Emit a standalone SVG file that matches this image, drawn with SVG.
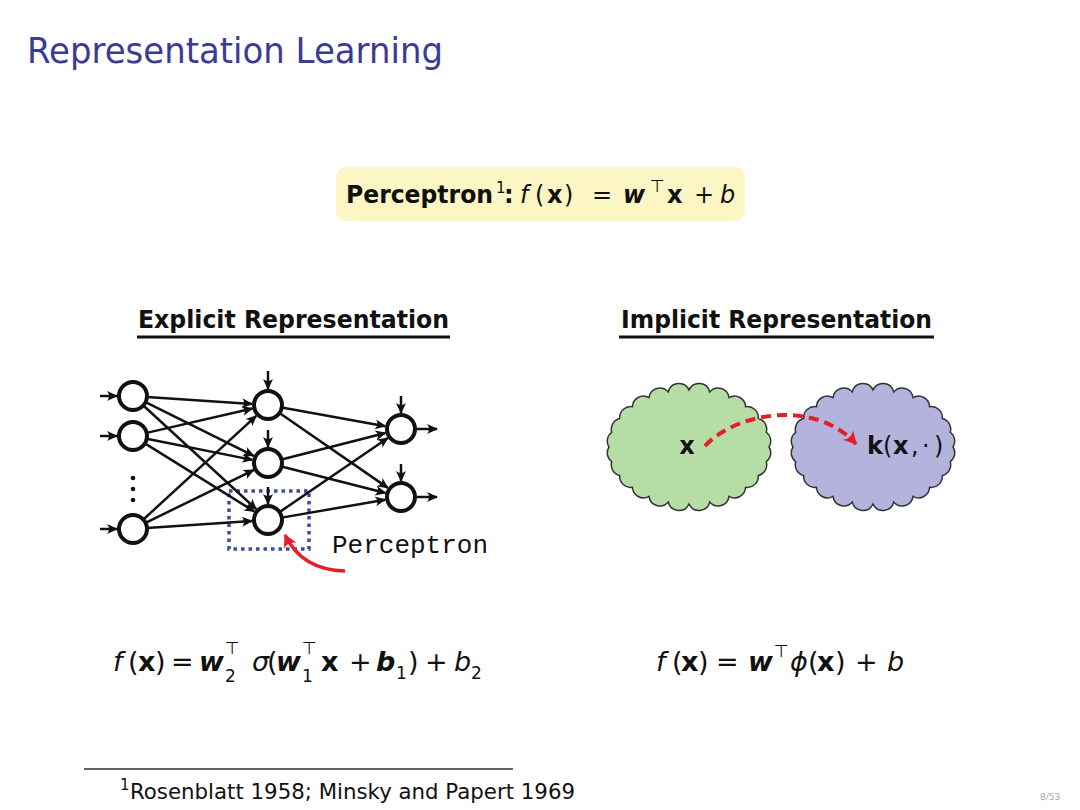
<svg xmlns="http://www.w3.org/2000/svg" xmlns:xlink="http://www.w3.org/1999/xlink" width="1080" height="810" viewBox="0 0 1080 810">
<style>
text { font-family: "DejaVu Sans", "Liberation Sans", sans-serif; fill: #111; }
.title { fill: #3b3b95; font-size: 35px; }
.head { font-weight: bold; font-size: 25px; }
.eq { font-size: 27px; }
.it { font-style: italic; }
.bf { font-weight: bold; }
.bi { font-weight: bold; font-style: italic; }
.sub { font-size: 17px; }
.node { fill: #fff; stroke: #111; stroke-width: 4; }
.edge { stroke: #111; stroke-width: 2.5; fill: none; marker-end: url(#ah); }
.cloud { stroke: #333; stroke-width: 1.5; }
</style>
<defs>
<marker id="ah" viewBox="-11 -6 12 12" refX="0" refY="0" markerWidth="12" markerHeight="12" orient="auto" markerUnits="userSpaceOnUse">
<path d="M1,0 L-10,-5 Q-6,0 -10,5 Z" fill="#111"/>
</marker>
<marker id="ahr" viewBox="-13 -8 15 16" refX="0" refY="0" markerWidth="15" markerHeight="16" orient="auto" markerUnits="userSpaceOnUse">
<path d="M1,0 L-12,-7 Q-7,0 -12,7 Z" fill="#e3202a"/>
</marker>
<path id="cloudShape" d="M80,0 A11,11 0 0 1 77.27,14.75 A11,11 0 0 1 69.28,28.5 A11,11 0 0 1 56.57,40.30 A11,11 0 0 1 40,49.36 A11,11 0 0 1 20.70,55.06 A11,11 0 0 1 0,57 A11,11 0 0 1 -20.70,55.06 A11,11 0 0 1 -40,49.36 A11,11 0 0 1 -56.57,40.30 A11,11 0 0 1 -69.28,28.5 A11,11 0 0 1 -77.27,14.75 A11,11 0 0 1 -80,0 A11,11 0 0 1 -77.27,-14.75 A11,11 0 0 1 -69.28,-28.5 A11,11 0 0 1 -56.57,-40.30 A11,11 0 0 1 -40,-49.36 A11,11 0 0 1 -20.70,-55.06 A11,11 0 0 1 0,-57 A11,11 0 0 1 20.70,-55.06 A11,11 0 0 1 40,-49.36 A11,11 0 0 1 56.57,-40.30 A11,11 0 0 1 69.28,-28.5 A11,11 0 0 1 77.27,-14.75 A11,11 0 0 1 80,0 Z"/>
</defs>
<rect width="1080" height="810" fill="#fff"/>

<text class="title" x="27" y="63" textLength="416" lengthAdjust="spacingAndGlyphs">Representation Learning</text>

<g id="perceptron-box">
<rect x="336" y="167" width="409" height="54" rx="10" fill="#fbf6c3"/>
<text y="203" font-size="24"><tspan class="bf" x="346" textLength="147" lengthAdjust="spacingAndGlyphs">Perceptron</tspan><tspan font-size="15" x="496" y="193">1</tspan><tspan class="bf" x="504" y="203">:</tspan><tspan class="it" x="520">f</tspan><tspan x="535">(</tspan><tspan class="bf" x="547">x</tspan><tspan x="564">)</tspan><tspan x="592">=</tspan><tspan class="bi" x="623">w</tspan><tspan font-size="17" x="650" y="192">⊤</tspan><tspan class="bf" x="667" y="203">x</tspan><tspan x="694">+</tspan><tspan class="it" x="720">b</tspan></text>
</g>

<g id="explicit-heading">
<text class="head" x="138" y="328" textLength="311" lengthAdjust="spacingAndGlyphs">Explicit Representation</text>
<line x1="137" y1="337" x2="450" y2="337" stroke="#111" stroke-width="3"/>
</g>
<g id="implicit-heading">
<text class="head" x="621" y="328" textLength="311" lengthAdjust="spacingAndGlyphs">Implicit Representation</text>
<line x1="619" y1="337" x2="934" y2="337" stroke="#111" stroke-width="3"/>
</g>

<g id="input-nodes">
<circle class="node" cx="133" cy="396" r="14"/>
<circle class="node" cx="133" cy="436" r="14"/>
<circle class="node" cx="133" cy="529" r="14"/>
<circle cx="133" cy="478" r="2.3" fill="#111"/>
<circle cx="133" cy="489" r="2.3" fill="#111"/>
<circle cx="133" cy="500" r="2.3" fill="#111"/>
</g>
<g id="hidden-nodes">
<circle class="node" cx="268" cy="405" r="14"/>
<circle class="node" cx="268" cy="463" r="14"/>
<circle class="node" cx="268" cy="520" r="14"/>
</g>
<g id="output-nodes">
<circle class="node" cx="401" cy="429" r="14"/>
<circle class="node" cx="401" cy="497" r="14"/>
</g>
<g id="perceptron-highlight">
<rect x="229" y="491" width="80" height="58" fill="none" stroke="#3a4f9a" stroke-width="3.5" stroke-dasharray="3.5,4"/>
<text x="332" y="553" font-size="26" style="font-family:'Liberation Mono','DejaVu Sans Mono',monospace">Perceptron</text>
</g>

<g id="cloud-x">
<use xlink:href="#cloudShape" href="#cloudShape" class="cloud" fill="#b6dda6" transform="translate(689,447)"/>
<text x="687" y="454" font-size="24" font-weight="bold" text-anchor="middle">x</text>
</g>
<g id="cloud-k">
<use xlink:href="#cloudShape" href="#cloudShape" class="cloud" fill="#b3b3dd" transform="translate(873,447)"/>
<text y="454" font-size="24"><tspan class="bf" x="867">k</tspan><tspan x="883">(</tspan><tspan class="bf" x="893">x</tspan><tspan x="911">,</tspan><tspan x="922">·</tspan><tspan x="934">)</tspan></text>
</g>

<g id="connectors">
<path class="edge" d="M100,396 L117,396"/>
<path class="edge" d="M100,436 L117,436"/>
<path class="edge" d="M100,529 L117,529"/>
<path class="edge" d="M268,371 L268,389"/>
<path class="edge" d="M268,430 L268,447"/>
<path class="edge" d="M268,487 L268,504"/>
<path class="edge" d="M401,396 L401,413"/>
<path class="edge" d="M401,464 L401,481"/>
<path class="edge" d="M417,429 L437,429"/>
<path class="edge" d="M417,497 L437,497"/>
<path class="edge" d="M146.97,396.93 L252.04,403.94"/>
<path class="edge" d="M145.54,402.22 L253.67,455.89"/>
<path class="edge" d="M143.31,405.47 L256.22,509.18"/>
<path class="edge" d="M146.65,432.87 L252.40,408.58"/>
<path class="edge" d="M146.73,438.75 L252.31,459.86"/>
<path class="edge" d="M144.89,443.40 L254.41,511.55"/>
<path class="edge" d="M143.31,519.53 L256.22,415.82"/>
<path class="edge" d="M145.58,522.85 L253.63,470.03"/>
<path class="edge" d="M146.97,528.07 L252.04,521.06"/>
<path class="edge" d="M281.78,407.49 L385.25,426.16"/>
<path class="edge" d="M279.52,412.97 L387.84,487.90"/>
<path class="edge" d="M281.56,459.53 L385.50,432.96"/>
<path class="edge" d="M281.56,466.47 L385.50,493.04"/>
<path class="edge" d="M279.55,512.10 L387.80,438.03"/>
<path class="edge" d="M281.79,517.61 L385.24,499.73"/>
<path d="M345,571 Q302,570 285,535" fill="none" stroke="#e3202a" stroke-width="3.5" marker-end="url(#ahr)"/>
<path d="M705,446 C735,413 815,398 856,444" fill="none" stroke="#e3202a" stroke-width="4" stroke-dasharray="10,6" marker-end="url(#ahr)"/>
</g>

<g id="formula-left">
<text class="eq" y="671"><tspan class="it" x="113">f</tspan><tspan x="128">(</tspan><tspan class="bf" x="138">x</tspan><tspan x="155">)</tspan><tspan x="171">=</tspan><tspan class="bi" x="199">w</tspan><tspan class="sub" x="225" y="682">2</tspan><tspan class="sub" x="225" y="654">⊤</tspan><tspan class="it" x="252" y="671">σ</tspan><tspan x="267">(</tspan><tspan class="bi" x="276">w</tspan><tspan class="sub" x="302" y="682">1</tspan><tspan class="sub" x="302" y="654">⊤</tspan><tspan class="bf" x="321" y="671">x</tspan><tspan x="349">+</tspan><tspan class="bi" x="376">b</tspan><tspan class="sub" x="396" y="679">1</tspan><tspan x="408" y="671">)</tspan><tspan x="425">+</tspan><tspan class="it" x="454">b</tspan><tspan class="sub" x="471" y="679">2</tspan></text>
</g>
<g id="formula-right">
<text class="eq" y="671"><tspan class="it" x="656">f</tspan><tspan x="672">(</tspan><tspan class="bf" x="681">x</tspan><tspan x="698">)</tspan><tspan x="716">=</tspan><tspan class="bi" x="748">w</tspan><tspan class="sub" x="774" y="657">⊤</tspan><tspan class="it" x="790" y="671">ϕ</tspan><tspan x="808">(</tspan><tspan class="bf" x="817">x</tspan><tspan x="835">)</tspan><tspan x="855">+</tspan><tspan class="it" x="887">b</tspan></text>
</g>

<g id="footnote">
<line x1="84" y1="769" x2="513" y2="769" stroke="#333" stroke-width="1.5"/>
<text x="120" y="790" font-size="15">1</text>
<text x="130" y="799" font-size="22" textLength="445" lengthAdjust="spacingAndGlyphs">Rosenblatt 1958; Minsky and Papert 1969</text>
</g>
<text x="1040" y="800" font-size="9" style="fill:#aaa">8/53</text>
</svg>
